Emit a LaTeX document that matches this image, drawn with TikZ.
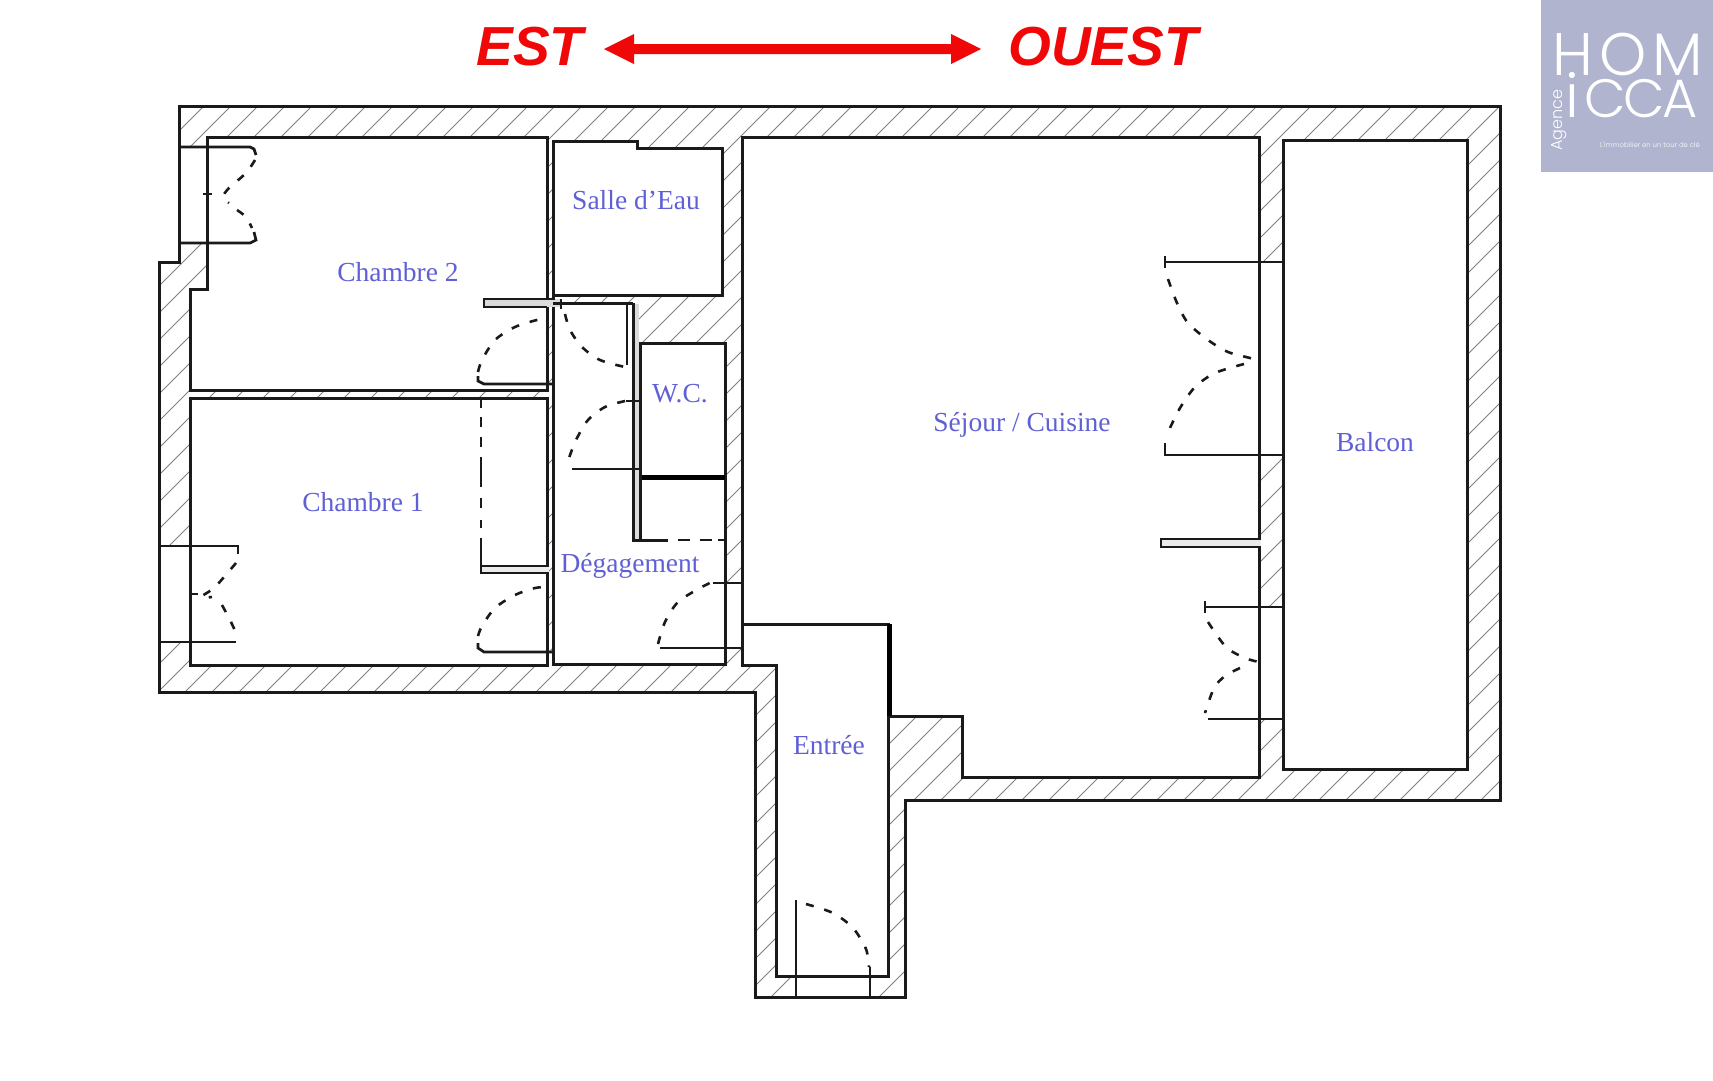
\documentclass[tikz,border=0pt]{standalone}
\usepackage{fontspec}
\setmainfont{Liberation Serif}
\newfontfamily\titlefont{Liberation Sans}
\newfontfamily\logofont[UprightFont=* Light]{Poppins}
\definecolor{labelblue}{HTML}{6060D6}
\definecolor{logobg}{HTML}{B0B4CF}
\definecolor{titlered}{HTML}{F00808}
\definecolor{wallink}{HTML}{1A1A1A}
\tikzset{
  wall/.style={draw=wallink,line width=3pt,line join=miter},
  thin wall/.style={draw=wallink,line width=2.7pt},
  thick wall/.style={draw=black,line width=5pt},
  hatchline/.style={draw=black!50,line width=1pt},
  swing/.style={draw=wallink,line width=2.6pt,dash pattern=on 8pt off 11pt},
  band/.style={draw=wallink,line width=2.8pt},
  room/.style={text=labelblue,font=\fontsize{27.5}{27.5}\selectfont,anchor=base,inner sep=0pt},
  cardinal/.style={text=titlered,font=\titlefont\bfseries\itshape\fontsize{55}{55}\selectfont,anchor=base,inner sep=0pt},
  logoword/.style={text=white,font=\logofont\fontsize{60}{60}\selectfont,anchor=base,inner sep=0pt},
  logoline/.style={text=white,inner sep=0pt}
}
\def\outerwall{(179,106) -- (1500,106) -- (1500,800) -- (905,800) -- (905,997) -- (755,997) -- (755,692) -- (159,692) -- (159,262) -- (179,262) -- cycle}
\def\chtwo{(207,137) -- (547,137) -- (547,390) -- (190,390) -- (190,289) -- (207,289) -- cycle}
\def\chone{(190,398) -- (547,398) -- (547,665) -- (190,665) -- cycle}
\def\salle{(553,141) -- (637,141) -- (637,148) -- (722,148) -- (722,295) -- (553,295) -- cycle}
\def\wc{(640,343) -- (725,343) -- (725,477) -- (640,477) -- cycle}
\def\closet{(640,477) -- (725,477) -- (725,540) -- (640,540) -- cycle}
\def\degag{(553,303) -- (633,303) -- (633,540) -- (725,540) -- (725,664) -- (553,664) -- cycle}
\def\sejour{(742,137) -- (1259,137) -- (1259,777) -- (962,777) -- (962,716) -- (888,716) -- (888,624) -- (742,624) -- cycle}
\def\entree{(742,624) -- (888,624) -- (888,976) -- (776,976) -- (776,665) -- (742,665) -- cycle}
\def\balcon{(1283,140) -- (1467,140) -- (1467,769) -- (1283,769) -- cycle}
\begin{document}
\begin{tikzpicture}[x=1pt,y=-1pt]
\useasboundingbox (0,0) rectangle (1713,1080);
\fill[white] (0,0) rectangle (1713,1080);

% hatching of the walls
\begin{scope}
  \clip \outerwall;
  \foreach \k in {0,...,95} {
    \pgfmathsetmacro{\s}{13+27*\k}
    \draw[hatchline] (\s,0) -- (0,\s);
  }
\end{scope}
\fill[white] \chtwo \chone \salle \wc \closet \degag \sejour \entree \balcon;

% openings: no hatching
\fill[white] (179,147) rectangle (207,243);
\fill[white] (159,546) rectangle (190,642);
\fill[white] (1259,262) rectangle (1283,455);
\fill[white] (1259,607) rectangle (1283,719);
\fill[white] (796,976) rectangle (870,997);
\fill[white] (725,583) rectangle (742,648);

% walls
\draw[wall] \outerwall;
\draw[wall] \chtwo;
\draw[wall] \chone;
\draw[wall] \salle;
\draw[wall] \wc;
\draw[wall] \sejour;
\draw[wall] \entree;
\draw[wall] \balcon;
\draw[wall] (553,295) -- (553,664) -- (725,664) -- (725,477);
\draw[thick wall] (889.5,624) -- (889.5,716);
\draw[line width=5pt,draw=black] (640,477.5) -- (725,477.5);

% stubs and thin wall bands
\fill[black!14] (483,299) rectangle (560,307);
\draw[band] (555,299) -- (484,299) -- (484,307) -- (547,307);
\draw[wall] (553,303) -- (633,303);
\fill[black!14] (634,304) rectangle (639,539);
\draw[wall] (633,303) -- (633,540) -- (668,540);
\draw[wall] (640,343) -- (640,540);
\draw[thin wall] (678,540) -- (690,540) (700,540) -- (712,540) (718,540) -- (725,540);
\fill[black!8] (482,567) rectangle (549,572);
\draw[band] (547,566) -- (481,566) -- (481,573) -- (547,573);
\fill[black!8] (1162,540) rectangle (1261,546);
\draw[band] (1259,539) -- (1161,539) -- (1161,547) -- (1259,547);

% dashed wall of Chambre 1
\draw[thin wall] (481,398) -- (481,408) (481,417) -- (481,427) (481,437) -- (481,447) (481,457) -- (481,487) (481,498) -- (481,508) (481,520) -- (481,528) (481,538) -- (481,573);

% door of Chambre 2
\draw[thin wall] (553,384) -- (484,384) -- (478,381) -- (478,376);
\draw[swing] plot[smooth] coordinates {(478,372) (482,360) (495,340) (515,327) (537,320) (548,319)};
% door to the corridor
\draw[thin wall] (627,303) -- (627,365);
\draw[thin wall] (561,299) -- (561,309);
\draw[swing] plot[smooth] coordinates {(565,314) (570,330) (582,347) (600,360) (625,367)};
% door of W.C.
\draw[thin wall] (572,469) -- (640,469);
\draw[thin wall] (626,401) -- (640,401);
\draw[swing] plot[smooth] coordinates {(625,401) (605,407) (588,420) (576,440) (569,458)};
% door of Chambre 1
\draw[thin wall] (553,652) -- (484,652) -- (478,648) -- (478,643);
\draw[swing] plot[smooth] coordinates {(478,636) (482,626) (495,608) (515,595) (535,588) (548,587)};
% door of Dégagement
\draw[thin wall] (660,648) -- (742,648);
\draw[thin wall] (713,583) -- (742,583);
\draw[swing] plot[smooth] coordinates {(658,644) (665,622) (678,602) (700,588) (712,582)};

% window of Chambre 2
\draw[thin wall] (179,147) -- (250,147) -- (254,149) -- (256,155);
\draw[thin wall] (179,243) -- (250,243) -- (256,240) -- (254,232);
\draw[thin wall] (203,194) -- (212,194);
\draw[swing] plot[smooth] coordinates {(255,160) (246,173) (229,188) (223,197) (229,203)};
\draw[swing] plot[smooth] coordinates {(237,210) (246,217) (252,228)};
% window of Chambre 1
\draw[thin wall] (159,546) -- (238,546) -- (238,554);
\draw[thin wall] (159,642) -- (236,642);
\draw[thin wall] (190,594) -- (198,594);
\draw[swing] plot[smooth] coordinates {(236,563) (215,587) (201,597) (212,597)};
\draw[swing] plot[smooth] coordinates {(222,605) (230,620) (238,637)};
% upper french window
\draw[thin wall] (1165,256) -- (1165,268) (1165,262) -- (1283,262);
\draw[thin wall] (1165,443) -- (1165,455) -- (1283,455);
\draw[swing] plot[smooth] coordinates {(1168,279) (1177,303) (1188,323) (1208,340) (1228,352) (1250,358) (1259,361)};
\draw[swing] plot[smooth] coordinates {(1244,364) (1215,373) (1195,387) (1180,408) (1169,430)};
% lower french window
\draw[thin wall] (1205,601) -- (1205,613) (1205,607) -- (1283,607);
\draw[thin wall] (1208,719) -- (1283,719);
\draw[swing] plot[smooth] coordinates {(1208,622) (1226,647) (1245,658) (1259,662)};
\draw[swing] plot[smooth] coordinates {(1240,668) (1225,676) (1214,688) (1205,713)};
% entrance door
\draw[thin wall] (796,900) -- (796,997);
\draw[thin wall] (870,967) -- (870,997);
\draw[swing] plot[smooth] coordinates {(806,904) (833,913) (853,928) (866,949) (869,967)};

% room labels
\node[room] (lchtwo) at (398,281) {Chambre 2};
\node[room] (lchone) at (363,511) {Chambre 1};
\node[room] (lsalle) at (636,209) {Salle d'Eau};
\node[room] (lwc) at (680,402) {W.C.};
\node[room] (ldegag) at (630,572) {Dégagement};
\node[room] (lentree) at (829,754) {Entrée};
\node[room] (lsejour) at (1022,431) {Séjour / Cuisine};
\node[room] (lbalcon) at (1375,451) {Balcon};

% orientation
\node[cardinal] (est) at (530,65) {EST};
\node[cardinal] (ouest) at (1103,65) {OUEST};
\coordinate (arrowW) at (604,49);
\coordinate (arrowE) at (981,49);
\fill[titlered] (arrowW) -- ++(30,-15) -- ++(0,10) -- (951,44) -- (951,34) -- (arrowE) -- (951,64) -- (951,54) -- (634,54) -- (634,64) -- cycle;

% logo
\fill[logobg] (1541,0) rectangle (1713,172);
\node[logoword] (hom) at (1628,75) {H\kern6pt O\kern6pt M};
\node[logoword,font=\logofont\fontsize{54}{54}\selectfont] (cca) at (1641,117) {C\kern-3pt C\kern-3pt A};
\node[logoword] (ii) at (1572,117) {i};
\node[logoline,rotate=90,font=\logofont\fontsize{16}{16}\selectfont] (agence) at (1559,120) {Agence};
\node[logoline,font=\logofont\fontsize{6.9}{6.9}\selectfont] (tag) at (1650,145) {L'immobilier en un tour de clé};
\end{tikzpicture}
\end{document}
